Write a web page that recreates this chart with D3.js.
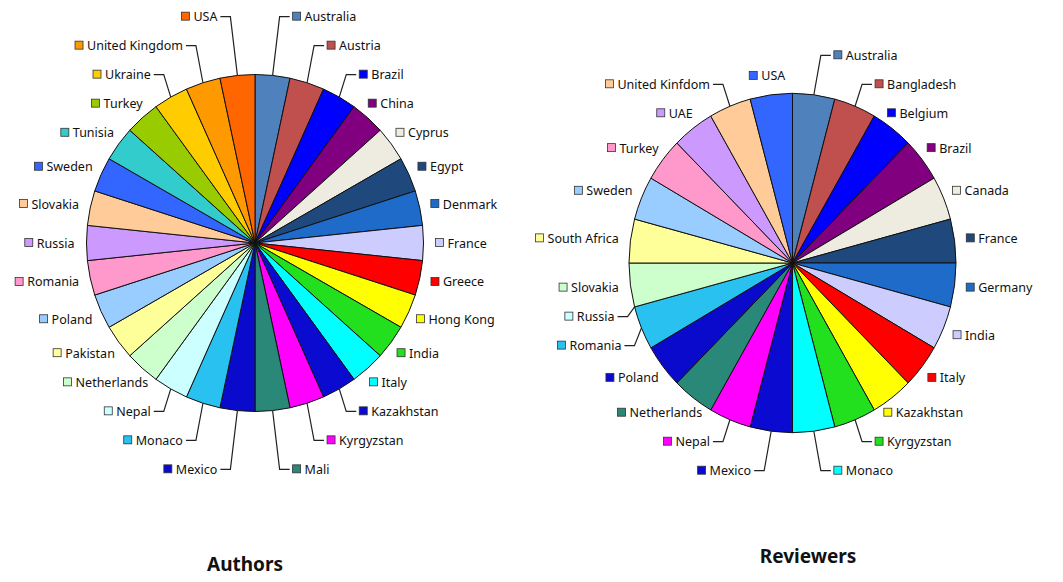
<!DOCTYPE html>
<html>
<head>
<meta charset="utf-8">
<script src="https://cdn.jsdelivr.net/npm/d3@7"></script>
<style>
  body { margin: 0; background: #fff; }
  svg { display: block; font-family: 'Noto Sans', sans-serif; }
</style>
</head>
<body>
<div id="chart"></div>
<script>
// shared slice colours (Excel style sequence)
const palette = [
  '#4F81BD', '#C0504D', '#0000FF', '#800080', '#EEECE1', '#1F497D',
  '#1F6BC9', '#CCCCFF', '#FF0000', '#FFFF00', '#22E01E', '#00FFFF',
  '#0A0AD0', '#FF00FF', '#2A8878', '#0A0ACC', '#29C1F0', '#CCFFFF',
  '#CCFFCC', '#FFFF99', '#99CCFF', '#FF99CC', '#CC99FF', '#FFCC99',
  '#3366FF', '#33CCCC', '#99CC00', '#FFCC00', '#FF9900', '#FF6600'
]

const authorCountries = [
  'Australia', 'Austria', 'Brazil', 'China', 'Cyprus', 'Egypt', 'Denmark',
  'France', 'Greece', 'Hong Kong', 'India', 'Italy', 'Kazakhstan', 'Kyrgyzstan',
  'Mali', 'Mexico', 'Monaco', 'Nepal', 'Netherlands', 'Pakistan', 'Poland',
  'Romania', 'Russia', 'Slovakia', 'Sweden', 'Tunisia', 'Turkey', 'Ukraine',
  'United Kingdom', 'USA'
]
const authorCounts = [
  1, 1, 1, 1, 1, 1, 1, 1, 1, 1,
  1, 1, 1, 1, 1, 1, 1, 1, 1, 1,
  1, 1, 1, 1, 1, 1, 1, 1, 1, 1
]

const reviewerCountries = [
  'Australia', 'Bangladesh', 'Belgium', 'Brazil', 'Canada', 'France', 'Germany',
  'India', 'Italy', 'Kazakhstan', 'Kyrgyzstan', 'Monaco', 'Mexico', 'Nepal',
  'Netherlands', 'Poland', 'Romania', 'Russia', 'Slovakia', 'South Africa',
  'Sweden', 'Turkey', 'UAE', 'United Kinfdom', 'USA'
]
const reviewerCounts = [
  1, 1, 1, 1, 1, 1, 1, 1, 1, 1,
  1, 1, 1, 1, 1, 1, 1, 0, 1, 1,
  1, 1, 1, 1, 1
]

const width = 1063
const height = 582

const svg = d3.select('#chart')
  .append('svg')
  .attr('width', width)
  .attr('height', height)
  .attr('viewBox', [0, 0, width, height])

function drawPie(names, counts, cfg) {
  const data = names.map((name, i) => ({ name, value: counts[i], color: palette[i] }))
  const arcs = d3.pie().sort(null).value(d => d.value)(data)
  const arc = d3.arc().innerRadius(0).outerRadius(cfg.ry)

  const g = svg.append('g')

  // slices (slightly elliptical for the right chart)
  g.append('g')
    .attr('transform', `translate(${cfg.cx},${cfg.cy}) scale(${cfg.rx / cfg.ry},1)`)
    .selectAll('path')
    .data(arcs.filter(d => d.value > 0))
    .join('path')
    .attr('d', arc)
    .attr('fill', d => d.data.color)
    .attr('stroke', '#111')
    .attr('stroke-width', 1)
    .attr('vector-effect', 'non-scaling-stroke')

  const leaderLayer = g.append('g')
  const labelLayer = g.append('g')

  // labels: legend key + name, measured first
  const h = 14, gap = 29, off = 12, margin = 36
  const labels = arcs.map(d => {
    const a = (d.startAngle + d.endAngle) / 2
    const s = Math.sin(a), c = Math.cos(a)
    const node = labelLayer.append('g')
    node.append('rect')
      .attr('width', 8).attr('height', 8)
      .attr('fill', d.data.color)
      .attr('stroke', '#333').attr('stroke-width', 0.8)
    const text = node.append('text')
      .attr('x', 12)
      .attr('font-size', 12.5)
      .attr('fill', '#111')
      .text(d.data.name)
    const w = 12 + text.node().getComputedTextLength()
    const ax = cfg.cx + (cfg.rx + off) * s
    const ay = cfg.cy - (cfg.ry + off) * c
    return {
      node, a, s, c, w,
      sx: cfg.cx + cfg.rx * s,
      sy: cfg.cy - cfg.ry * c,
      bx: ax + w / 2 * s,
      by: ay - h / 2 * c,
      right: a < Math.PI,
      upper: c > 0,
      pushed: false
    }
  })

  // push crowded labels away from the equator
  const groups = d3.groups(labels, l => `${l.right}-${l.upper}`)
  groups.forEach(([, list]) => {
    list.sort((p, q) => Math.abs(p.by - cfg.cy) - Math.abs(q.by - cfg.cy))
    const placed = []
    list.forEach(l => {
      for (let k = 0; k < 20; k++) {
        const hits = placed.filter(p =>
          Math.abs(l.bx - p.bx) < (l.w + p.w) / 2 + margin && Math.abs(l.by - p.by) < gap - 0.01)
        if (!hits.length) break
        l.by = l.upper ? d3.min(hits, p => p.by) - gap : d3.max(hits, p => p.by) + gap
        l.bx = l.right ? l.sx + 20 + l.w / 2 : l.sx - 20 - l.w / 2
        l.pushed = true
      }
      placed.push(l)
    })
  })

  labels.forEach(l => {
    const left = l.bx - l.w / 2
    l.node.attr('transform', `translate(${left},${l.by})`)
    l.node.select('rect').attr('y', -4.5)
    l.node.select('text').attr('y', 4.5)
    if (l.pushed) {
      const ex = l.right ? left - 3 : left + l.w + 3
      const bx = l.right ? ex - 10 : ex + 10
      leaderLayer.append('path')
        .attr('d', d3.line()([[l.sx, l.sy], [bx, l.by], [ex, l.by]]))
        .attr('fill', 'none')
        .attr('stroke', '#222')
        .attr('stroke-width', 1.2)
    }
  })

  g.append('text')
    .attr('x', cfg.titleX)
    .attr('y', cfg.titleY)
    .attr('text-anchor', 'middle')
    .attr('font-size', 19)
    .attr('font-weight', 'bold')
    .attr('fill', '#111')
    .text(cfg.title)
}

drawPie(authorCountries, authorCounts, {
  cx: 255, cy: 243, rx: 168.5, ry: 168.5, title: 'Authors', titleX: 245, titleY: 571
})
drawPie(reviewerCountries, reviewerCounts, {
  cx: 792.5, cy: 263, rx: 163.5, ry: 169.7, title: 'Reviewers', titleX: 808, titleY: 563
})
</script>
</body>
</html>
